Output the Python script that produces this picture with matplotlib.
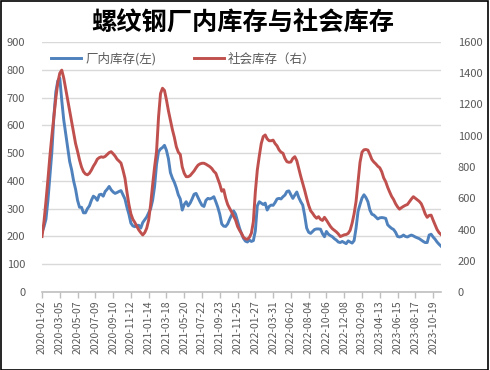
import matplotlib
matplotlib.use("Agg")
import matplotlib.pyplot as plt
import numpy as np

plt.rcParams['font.family'] = ['Noto Sans CJK SC', 'DejaVu Sans']

title = "螺纹钢厂内库存与社会库存"
series_left_name = "厂内库存(左)"
series_right_name = "社会库存（右）"

tick_labels = ["2020-01-02", "2020-03-05", "2020-05-07", "2020-07-09", "2020-09-10",
               "2020-11-12", "2021-01-14", "2021-03-18", "2021-05-20", "2021-07-22",
               "2021-09-23", "2021-11-25", "2022-01-27", "2022-03-31", "2022-06-02",
               "2022-08-04", "2022-10-06", "2022-12-08", "2023-02-09", "2023-04-13",
               "2023-06-15", "2023-08-17", "2023-10-19"]

# weekly factory inventory (left axis, 万吨)
factory = [215, 235, 262, 330, 420, 505, 630, 720, 760, 770,
           690, 620, 570, 520, 470, 440, 400, 370, 330, 305,
           305, 285, 285, 300, 310, 330, 345, 340, 330, 350,
           352, 345, 362, 370, 380, 368, 360, 355, 358, 362,
           365, 350, 335, 305, 280, 248, 238, 235, 240, 240,
           230, 250, 260, 270, 285, 300, 330, 380, 460, 505,
           515, 520, 528, 510, 480, 430, 410, 395, 375, 350,
           335, 295, 315, 325, 310, 320, 335, 352, 355, 340,
           325, 312, 308, 330, 337, 335, 338, 343, 325, 305,
           280, 245, 237, 236, 245, 262, 277, 292, 280, 255,
           230, 210, 193, 183, 180, 187, 182, 185, 220, 310,
           325, 320, 315, 320, 295, 308, 313, 312, 322, 335,
           337, 335, 343, 349, 362, 364, 350, 337, 349, 360,
           340, 325, 313, 275, 230, 215, 211, 218, 225, 227,
           227, 226, 210, 199, 218, 208, 203, 199, 192, 187,
           180, 178, 182, 178, 174, 184, 180, 176, 185, 230,
           290, 315, 338, 350, 340, 325, 295, 280, 277, 270,
           263, 267, 268, 267, 265, 242, 235, 229, 225, 215,
           200, 198, 200, 205, 200, 198, 202, 205, 202, 198,
           195, 192, 187, 182, 178, 178, 205, 208, 198, 190,
           180, 172, 165]

# weekly social inventory (right axis, 万吨)
social = [355, 450, 580, 720, 870, 1000, 1120, 1240, 1340, 1400,
          1420, 1370, 1300, 1230, 1160, 1090, 1020, 950, 900, 845,
          800, 770, 755, 750, 760, 780, 805, 825, 850, 860,
          865, 862, 868, 880, 892, 898, 885, 870, 850, 838,
          825, 780, 728, 640, 560, 500, 465, 445, 420, 397,
          380, 365, 380, 408, 460, 560, 685, 800, 900, 1120,
          1270, 1304, 1290, 1230, 1160, 1100, 1040, 990, 930, 895,
          880, 800, 760, 738, 738, 745, 760, 775, 795, 812,
          820, 824, 824, 818, 810, 802, 790, 772, 760, 725,
          690, 645, 655, 600, 560, 535, 512, 485, 460, 420,
          395, 375, 350, 340, 338, 350, 376, 450, 640, 780,
          870, 950, 995, 1005, 980, 968, 968, 972, 950, 935,
          910, 895, 888, 855, 834, 830, 832, 855, 866, 840,
          790, 740, 696, 650, 600, 555, 520, 504, 485, 472,
          482, 465, 458, 478, 460, 440, 420, 405, 395, 385,
          372, 355, 360, 366, 368, 375, 395, 440, 500, 580,
          706, 830, 895, 910, 912, 908, 880, 848, 832, 820,
          805, 795, 770, 730, 706, 670, 640, 612, 592, 565,
          545, 530, 540, 548, 555, 560, 578, 595, 610, 600,
          590, 580, 565, 535, 500, 478, 490, 492, 460, 430,
          400, 380, 368]

left_ticks = [0, 100, 200, 300, 400, 500, 600, 700, 800, 900]
right_ticks = [0, 200, 400, 600, 800, 1000, 1200, 1400, 1600]

W, H = 490, 370
fig = plt.figure(figsize=(W / 100, H / 100), dpi=100)
ax = fig.add_axes([42 / W, 1 - 292 / H, (441 - 42) / W, (292 - 42) / H])
ax2 = ax.twinx()

x = np.arange(len(factory))
blue = "#4f81bd"
red = "#c0504d"
grey_txt = "#595959"

l1, = ax.plot(x, factory, color=blue, lw=2.1, solid_joinstyle='round', zorder=3)
l2, = ax2.plot(np.arange(len(social)), social, color=red, lw=2.1, solid_joinstyle='round', zorder=3)

ax.set_xlim(0, len(factory) - 1)
ax.set_ylim(0, 900)
ax2.set_ylim(0, 1600)
ax.set_yticks(left_ticks)
ax2.set_yticks(right_ticks)
ax.set_yticklabels([str(v) for v in left_ticks])
ax2.set_yticklabels([str(v) for v in right_ticks])

tick_pos = np.arange(len(tick_labels)) * 9
ax.set_xticks(tick_pos)
ax.set_xticklabels(tick_labels, rotation=90)

ax.grid(axis='y', color='#d9d9d9', lw=1)
ax.set_axisbelow(True)
for a in (ax, ax2):
    for s in ('top', 'left', 'right', 'bottom'):
        a.spines[s].set_visible(False)
ax.spines['bottom'].set_visible(True)
ax.spines['bottom'].set_color('#bfbfbf')
ax.spines['bottom'].set_linewidth(1.2)

ax.tick_params(axis='x', colors='#bfbfbf', labelcolor=grey_txt, labelsize=7.5,
               length=4, width=1, pad=2, direction='out')
ax.tick_params(axis='y', length=0, labelcolor=grey_txt, labelsize=8, pad=12)
ax2.tick_params(axis='y', length=0, labelcolor=grey_txt, labelsize=8, pad=12)

fig.text(243 / W, 1 - 22 / H, title, ha='center', va='center',
         fontsize=18.2, fontweight='bold', color='black')

fig.legend([l1, l2], [series_left_name, series_right_name], loc='center',
           bbox_to_anchor=(183 / W, 1 - 59 / H), ncol=2, frameon=False,
           fontsize=9, handlelength=2.4, handletextpad=0.3, columnspacing=3,
           labelcolor=grey_txt)

border = plt.Rectangle((0.5 / W, 0.5 / H), 1 - 3 / W, 1 - 1.5 / H, transform=fig.transFigure,
                       fill=False, ec='black', lw=1.2)
fig.add_artist(border)

fig.savefig("out.png", dpi=100, facecolor='white')
